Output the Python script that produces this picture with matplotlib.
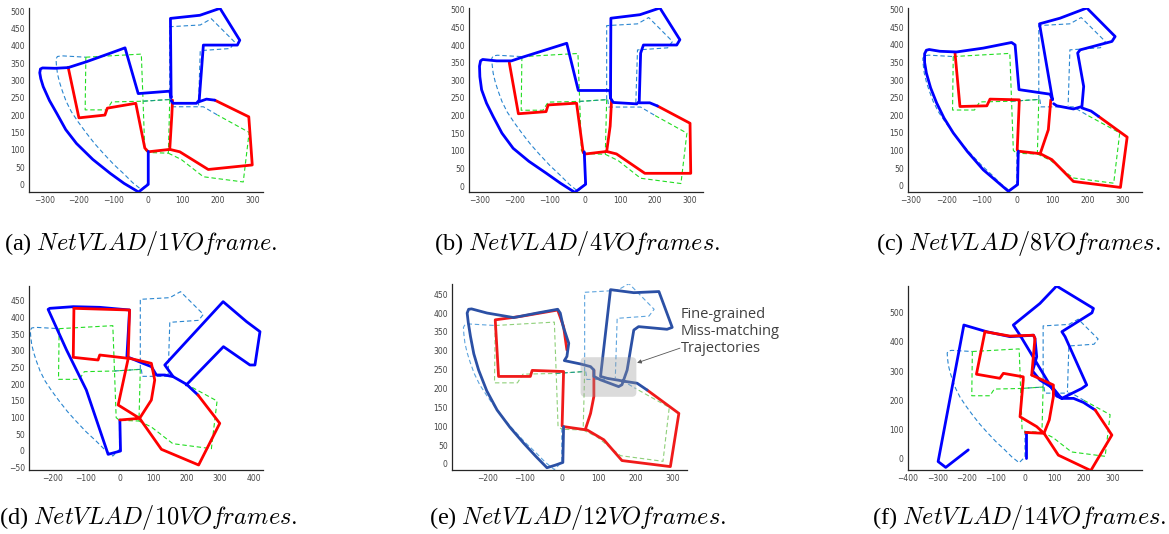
import numpy as np
import matplotlib
matplotlib.use("Agg")
import matplotlib.pyplot as plt
from matplotlib.patches import FancyBboxPatch

plt.rcParams['mathtext.fontset'] = 'cm'

# ground truth (dashed), same for every panel
gt_blue = [
    [(0, 95), (0, 5), (-20, -15), (-45, 5), (-70, 30), (-100, 58), (-130, 90), (-155, 118),
     (-180, 150), (-202, 180), (-222, 210), (-237, 240), (-248, 270), (-256, 295), (-262, 320),
     (-265, 345), (-266, 362), (-262, 369), (-250, 371), (-180, 367)],
    [(62, 245), (62, 455), (150, 460), (182, 478), (250, 410), (236, 392), (150, 386), (145, 228)],
    [(65, 245), (68, 224), (120, 224), (159, 224), (200, 200)],
]
gt_green = [
    [(-180, 367), (-20, 376), (-15, 240), (-10, 100), (0, 92)],
    [(-180, 367), (-182, 215), (-120, 215), (-105, 238), (-15, 240), (62, 245)],
    [(62, 245), (58, 90), (0, 92)],
    [(58, 90), (95, 72), (159, 22), (274, 7), (291, 150), (200, 200)],
]
gt_teal = [(-15, 240), (62, 245)]

# estimated trajectories per panel
a_blue = [
    [(0, 95), (0, 0), (-28, -22), (-70, 3), (-110, 32), (-160, 72), (-207, 118), (-238, 158),
     (-264, 205), (-285, 242), (-303, 282), (-310, 305), (-313, 322), (-311, 333), (-305, 336),
     (-269, 335), (-231, 337), (-178, 354), (-111, 378), (-67, 394), (-29, 262),
     (62, 269), (66, 250), (64, 479), (149, 488), (207, 508), (264, 416), (257, 402), (159, 402),
     (147, 243), (139, 234), (72, 234), (66, 242)],
    [(145, 238), (168, 246), (192, 243)],
]
a_red = [
    [(-231, 338), (-200, 192), (-125, 200), (-118, 220), (-36, 234), (-10, 105), (0, 94), (62, 101),
     (91, 94), (173, 43), (300, 56), (290, 195), (192, 243)],
    [(70, 243), (68, 200), (62, 101)],
]

b_blue = [
    [(-2, 97), (2, 5), (-29, -18), (-70, 8), (-110, 36), (-160, 70), (-205, 107), (-237, 150),
     (-262, 197), (-281, 235), (-295, 273), (-300, 310), (-301, 340), (-298, 355), (-292, 359),
     (-252, 355), (-210, 355), (-186, 363), (-119, 384), (-52, 405), (-19, 271),
     (71, 271), (73, 250), (74, 476), (157, 486), (214, 505), (271, 415), (262, 400), (167, 400),
     (159, 377), (155, 240), (148, 233), (81, 237), (73, 249)],
    [(155, 236), (185, 236), (207, 227)],
]
b_red = [
    [(-216, 350), (-190, 205), (-111, 211), (-105, 230), (-24, 235), (-5, 95), (2, 91), (62, 98),
     (90, 91), (171, 36), (302, 36), (300, 178), (207, 227)],
    [(76, 244), (72, 170), (62, 98)],
]

c_blue = [
    [(4, 98), (2, 3), (-24, -16), (-60, 15), (-95, 45), (-140, 97), (-180, 150), (-206, 192),
     (-227, 235), (-244, 278), (-256, 320), (-261, 350), (-261, 375), (-256, 385), (-248, 387),
     (-218, 382), (-171, 380), (-95, 391), (-15, 407), (-5, 400), (6, 273), (94, 260),
     (101, 244), (64, 460), (122, 476), (198, 505), (278, 424), (269, 410), (179, 386), (172, 377),
     (189, 282), (184, 225), (160, 218), (113, 227), (104, 233)],
    [(184, 221), (210, 212), (231, 197)],
]
c_red = [
    [(-175, 377), (-161, 225), (-85, 227), (-76, 246), (7, 244), (1, 102), (4, 98), (66, 91),
     (99, 74), (160, 12), (293, -5), (312, 138), (231, 197)],
    [(96, 244), (89, 159), (66, 91)],
]

d_blue = [
    [(1, 93), (3, 0), (-34, -10), (-99, 183), (-158, 303), (-213, 425), (-208, 428), (-138, 433),
     (-59, 431), (30, 423), (22, 283), (70, 263), (95, 253), (110, 228), (135, 228), (160, 223),
     (135, 258), (309, 448), (379, 388), (419, 358), (404, 258), (389, 258), (310, 313), (199, 198)],
    [(160, 223), (200, 200), (234, 168)],
]
d_red = [
    [(-136, 428), (-138, 281), (-64, 273), (-59, 288), (26, 278), (-4, 138), (60, 98), (1, 93)],
    [(60, 98), (125, 5), (236, -42), (299, 83), (234, 168)],
    [(30, 278), (95, 263), (105, 213), (95, 153), (60, 98)],
    [(-136, 428), (30, 423), (26, 285)],
]

e_blue = [
    [(5, 99), (3, 4), (-17, -3), (-40, -10), (-70, 20), (-103, 55), (-140, 97), (-175, 143),
     (-203, 194), (-225, 249), (-238, 292), (-247, 338), (-253, 375), (-256, 400), (-252, 410),
     (-244, 411), (-202, 400), (-130, 388), (-67, 400), (-11, 410), (-4, 400), (4, 364),
     (19, 320), (14, 285), (7, 274), (51, 265), (78, 258), (87, 249), (87, 232), (105, 223),
     (154, 205), (163, 210), (177, 249), (195, 355), (208, 364), (285, 357), (299, 362), (263, 457),
     (195, 454), (132, 462), (105, 232), (123, 227), (177, 218), (204, 214), (231, 196)],
]
e_red = [
    [(14, 302), (5, 364), (-11, 408), (-112, 391), (-180, 382), (-171, 232), (-85, 232), (-80, 248),
     (5, 245), (1, 101), (5, 99), (69, 90), (114, 64), (163, 9), (294, -7), (317, 134), (231, 196)],
    [(87, 249), (87, 179), (78, 134), (64, 92)],
]

f_blue = [
    [(2, 0), (2, 89)],
    [(-194, 29), (-271, -31), (-297, -11), (-209, 458), (-131, 435), (-51, 418), (29, 423), (34, 412),
     (40, 349), (26, 300), (51, 269), (97, 240), (120, 212), (126, 206), (108, 214), (-17, 423),
     (-40, 458), (51, 532), (108, 592), (234, 515), (229, 500), (126, 435), (137, 418), (211, 252),
     (194, 240), (126, 206)],
    [(126, 206), (166, 206), (200, 192), (240, 166)],
]
f_red = [
    [(-137, 435), (-166, 289), (-86, 275), (-74, 292), (-6, 280), (-6, 269), (-17, 143), (40, 109),
     (65, 86), (2, 89)],
    [(65, 86), (114, 11), (225, -42), (297, 80), (240, 166)],
    [(23, 286), (97, 252), (97, 212), (83, 132), (65, 86)],
    [(-137, 435), (-51, 420), (29, 423), (34, 412), (23, 286)],
]

captions = ["(a) $NetVLAD/1VOframe.$", "(b) $NetVLAD/4VOframes.$", "(c) $NetVLAD/8VOframes.$",
            "(d) $NetVLAD/10VOframes.$", "(e) $NetVLAD/12VOframes.$", "(f) $NetVLAD/14VOframes.$"]

W, H = 1169, 534
fig = plt.figure(figsize=(W / 100, H / 100), dpi=100)


def make_ax(left, right, top, bottom):
    return fig.add_axes([left / W, 1 - bottom / H, (right - left) / W, (bottom - top) / H])


def line(ax, pts, **kw):
    p = np.array(pts, dtype=float)
    ax.plot(p[:, 0], p[:, 1], solid_joinstyle='round', solid_capstyle='round', **kw)


def draw_panel(ax, blues, reds, xlim, ylim, xticks, yticks, blue_c='#0000ff', red_c='#ff0000',
               gtb='#2a86d0', gtg='#22dd22', red_top=False):
    for seg in gt_blue:
        line(ax, seg, color=gtb, lw=0.8, ls=(0, (4, 2.5)))
    for seg in gt_green:
        line(ax, seg, color=gtg, lw=0.8, ls=(0, (4, 2.5)))
    line(ax, gt_teal, color='#1a9a8a', lw=0.8, ls=(0, (4, 2.5)))
    zb, zr = (3, 4) if red_top else (4, 3)
    for seg in reds:
        line(ax, seg, color=red_c, lw=2.0, zorder=zr)
    for seg in blues:
        line(ax, seg, color=blue_c, lw=2.0, zorder=zb)
    ax.set_xlim(*xlim)
    ax.set_ylim(*ylim)
    ax.set_xticks(xticks)
    ax.set_yticks(yticks)
    for s in ['top', 'right']:
        ax.spines[s].set_visible(False)
    for s in ['left', 'bottom']:
        ax.spines[s].set_color('#262626')
        ax.spines[s].set_linewidth(0.9)
    ax.tick_params(labelsize=5.5, labelcolor='#444444', color='#262626', direction='in',
                   length=0, pad=3)
    ax.set_facecolor('none')


ax_a = make_ax(29, 263, 8, 192)
draw_panel(ax_a, a_blue, a_red, (-344, 331), (-22, 509), range(-300, 301, 100), range(0, 501, 50))
ax_b = make_ax(469, 703, 8, 192)
draw_panel(ax_b, b_blue, b_red, (-331, 337), (-17, 505), range(-300, 301, 100), range(0, 501, 50))
ax_c = make_ax(908, 1142, 8, 192)
draw_panel(ax_c, c_blue, c_red, (-308, 354), (-18, 505), range(-300, 301, 100), range(0, 501, 50))
ax_d = make_ax(29, 263, 286, 470)
draw_panel(ax_d, d_blue, d_red, (-270, 428), (-57, 495), range(-200, 401, 100), range(-50, 451, 50),
           red_top=True)
ax_e = make_ax(452, 687, 284, 470)
draw_panel(ax_e, e_blue, e_red, (-297, 339), (-16, 477), range(-200, 301, 100), range(0, 451, 50),
           blue_c='#2b50a5', red_c='#f01a1a', gtb='#5fa5de', gtg='#8fd07a')
ax_f = make_ax(908, 1142, 286, 470)
draw_panel(ax_f, f_blue, f_red, (-400, 400), (-40, 592), range(-400, 301, 100), range(0, 501, 100),
           red_top=True)

# highlight box and note in panel (e)
box = FancyBboxPatch((51, 178), 151, 105, boxstyle="round,pad=0,rounding_size=12",
                     facecolor='#9a9a9a', edgecolor='none', alpha=0.35, zorder=6)
ax_e.add_patch(box)
ax_e.annotate('', xy=(204, 268), xytext=(0.97, 0.655), textcoords='axes fraction',
              arrowprops=dict(arrowstyle='-|>', color='#555555', lw=0.6, mutation_scale=6,
                              shrinkA=0, shrinkB=0), annotation_clip=False)
ax_e.text(0.975, 0.745, "Fine-grained\nMiss-matching\nTrajectories", transform=ax_e.transAxes,
          ha='left', va='center', fontsize=10.5, color='#404040', family='Open Sans',
          linespacing=1.15, clip_on=False)

cx = [141, 577, 1018, 148, 578, 1019]
cy = [243, 243, 243, 518, 518, 518]
for i, cap in enumerate(captions):
    fig.text(cx[i] / W, 1 - cy[i] / H, cap, ha='center', va='center', fontsize=17.5,
             family='Liberation Serif')

fig.savefig('out.png', dpi=100)
